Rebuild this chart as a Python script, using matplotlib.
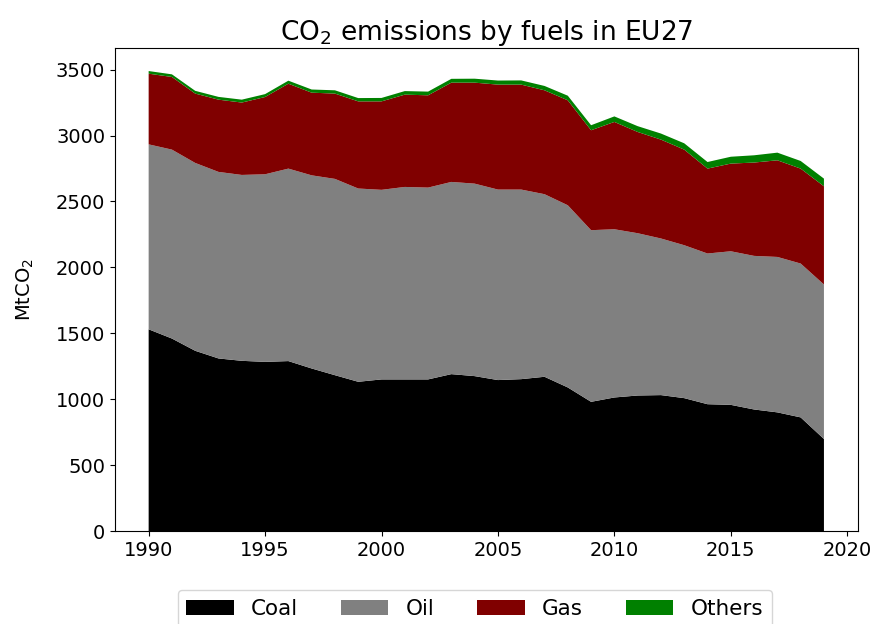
import numpy as np
import matplotlib
matplotlib.use("Agg")
import matplotlib.pyplot as plt

years = np.arange(1990, 2020)

coal = [1530, 1460, 1367, 1309, 1291, 1283, 1289, 1233, 1182, 1132,
        1150, 1150, 1150, 1190, 1175, 1145, 1152, 1170, 1089, 980,
        1013, 1028, 1031, 1008, 962, 957, 922, 900, 862, 698]
oil = [1403, 1433, 1425, 1415, 1410, 1423, 1460, 1465, 1489, 1466,
       1438, 1460, 1455, 1458, 1460, 1445, 1438, 1385, 1382, 1302,
       1276, 1231, 1188, 1160, 1143, 1165, 1165, 1179, 1167, 1172]
gas = [536, 551, 526, 548, 549, 586, 644, 627, 647, 661,
       671, 700, 700, 753, 766, 796, 796, 788, 796, 758,
       814, 768, 750, 725, 644, 665, 708, 733, 720, 745]
others = [20, 20, 21, 21, 22, 22, 23, 24, 25, 25,
          26, 27, 28, 29, 30, 31, 32, 33, 35, 38,
          42, 44, 46, 48, 50, 52, 55, 58, 58, 58]

labels = ["Coal", "Oil", "Gas", "Others"]
colors = ["black", "grey", "maroon", "green"]

plt.rcParams["font.size"] = 14

fig = plt.figure(figsize=(8.77, 6.24), dpi=100)
ax = fig.add_axes([0.131, 0.149, 0.847, 0.774])

ax.stackplot(years, coal, oil, gas, others, labels=labels, colors=colors)

ax.set_ylabel("MtCO$_2$", labelpad=14)
ax.set_title("CO$_2$ emissions by fuels in EU27", fontsize=19)
ax.legend(loc="upper center", bbox_to_anchor=(0.4845, -0.10), ncol=4,
          fontsize=15.5, handlelength=2.2)

fig.savefig("out.png", dpi=100)
